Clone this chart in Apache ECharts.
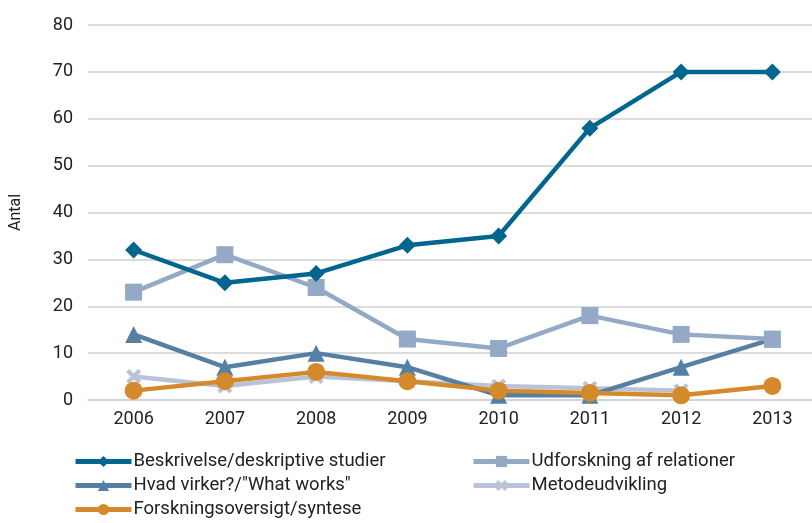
<!DOCTYPE html>
<html><head><meta charset="utf-8">
<script src="https://cdn.jsdelivr.net/npm/echarts@6/dist/echarts.min.js"></script>
<style>html,body{margin:0;padding:0;background:#fff;overflow:hidden}#c{width:818px;height:523px}</style>
</head><body><div id="c"></div>
<script>
const years = ['2006','2007','2008','2009','2010','2011','2012','2013'];
const beskrivelse = [32, 25, 27, 33, 35, 58, 70, 70];
const udforskning = [23, 31, 24, 13, 11, 18, 14, 13];
const hvadVirker = [14, 7, 10, 7, 1, 1, 7, 13];
const metode = [5, 3, 5, 4, 3, 2.5, 2, null];
const forskning = [2, 4, 6, 4, 2, 1.5, 1, 3];
const names = ['Beskrivelse/deskriptive studier','Udforskning af relationer','Hvad virker?/"What works"','Metodeudvikling','Forskningsoversigt/syntese'];

const font = 'Roboto';
const crossPath = 'path://M2,0 L5,3 L8,0 L10,2 L7,5 L10,8 L8,10 L5,7 L2,10 L0,8 L3,5 L0,2 Z';
function mk(name, data, color, symbol, size, z) {
  return {name, type:'line', data, color, symbol, symbolSize:size, z,
    lineStyle:{width:4.5, color}, itemStyle:{color}, connectNulls:false, animation:false};
}
const legendPos = [[73,452],[471,452],[73,476],[471,476],[73,500]];
const chart = echarts.init(document.getElementById('c'));
chart.setOption({
  animation:false,
  textStyle:{fontFamily:font},
  grid:{left:88, right:0, top:25, bottom:123},
  xAxis:{type:'category', data:years, boundaryGap:true,
    axisLine:{show:true, lineStyle:{color:'#d0d0d0', width:1.5}}, axisTick:{show:false},
    axisLabel:{color:'#222', fontSize:18, margin:10, fontFamily:font}},
  yAxis:{type:'value', min:0, max:80, interval:10, name:'Antal', nameLocation:'middle', nameGap:64,
    nameRotate:90, nameTextStyle:{color:'#222', fontSize:16, fontFamily:font},
    axisLine:{show:false}, axisTick:{show:false},
    axisLabel:{color:'#222', fontSize:18, margin:15, fontFamily:font},
    splitLine:{lineStyle:{color:'#d0d0d0', width:1.5}}},
  legend: names.map((n,i)=>({data:[n], left:legendPos[i][0], top:legendPos[i][1], padding:0, itemWidth:56, itemHeight:14, itemGap:4,
    lineStyle:{width:5}, itemStyle:{borderWidth:0},
    textStyle:{color:'#222', fontSize:18.5, fontFamily:font, padding:[0,0,0,-3]}})),
  series:[
    mk(names[0], beskrivelse, '#00668f', 'diamond', 17, 5),
    mk(names[1], udforskning, '#94a9c5', 'rect', 17, 4),
    mk(names[2], hvadVirker, '#557fa3', 'triangle', 17, 3),
    mk(names[3], metode, '#b8c3d8', crossPath, 15, 2),
    mk(names[4], forskning, '#d4892a', 'circle', 18, 6)
  ]
});
</script></body></html>
